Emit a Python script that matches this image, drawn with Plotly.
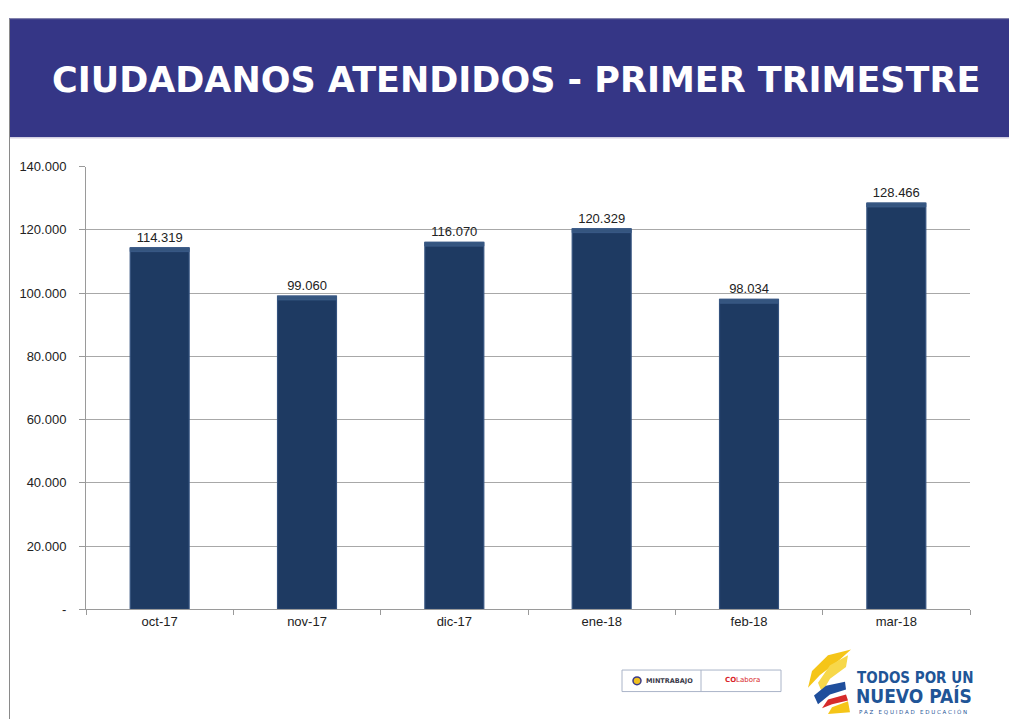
import plotly.graph_objects as go

W, H = 1009, 727

categories = ["oct-17", "nov-17", "dic-17", "ene-18", "feb-18", "mar-18"]
values = [114319, 99060, 116070, 120329, 98034, 128466]
value_labels = ["114.319", "99.060", "116.070", "120.329", "98.034", "128.466"]
y_tickvals = [0, 20000, 40000, 60000, 80000, 100000, 120000, 140000]
y_ticktext = ["-", "20.000", "40.000", "60.000", "80.000", "100.000", "120.000", "140.000"]
title_text = "CIUDADANOS ATENDIDOS - PRIMER TRIMESTRE"

BEVEL = 1200  # thickness (in data units) of the lighter top edge of each bar


def px(x):
    return x / W


def py(y):
    return 1 - y / H


fig = go.Figure()
fig.add_trace(go.Bar(
    x=categories, y=values,
    text=value_labels, textposition="outside",
    textfont=dict(family="Liberation Sans, Arial", size=13, color="#222222"),
    cliponaxis=False,
    marker=dict(color="#1e3a62", line=dict(color="#34527e", width=1.2)),
    width=0.4,
    hoverinfo="skip",
))
# soft lighter bevel at top of bars
fig.add_trace(go.Bar(
    x=categories, y=[BEVEL] * len(values), base=[v - BEVEL for v in values],
    marker=dict(color="#35557f", line=dict(color="#3a5a86", width=1)),
    width=0.4, hoverinfo="skip",
))

shapes = [
    dict(type="rect", xref="paper", yref="paper", x0=px(9), x1=px(W), y0=py(133), y1=py(12),
         fillcolor="#353686", line=dict(width=0), layer="below"),
    dict(type="line", xref="paper", yref="paper", x0=px(9.5), x1=px(9.5), y0=0, y1=py(12),
         line=dict(color="#8a8a8a", width=1)),
    dict(type="line", xref="paper", yref="paper", x0=px(9), x1=px(W), y0=py(12), y1=py(12),
         line=dict(color="#6a6a9a", width=1)),
    dict(type="line", xref="paper", yref="paper", x0=px(10), x1=px(W), y0=py(134), y1=py(134),
         line=dict(color="#e4dde8", width=1)),
    dict(type="rect", xref="paper", yref="paper", x0=px(622), x1=px(781), y0=py(699), y1=py(677),
         fillcolor="white", line=dict(color="#aab4c8", width=1)),
    dict(type="line", xref="paper", yref="paper", x0=px(701), x1=px(701), y0=py(699), y1=py(677),
         line=dict(color="#aab4c8", width=1)),
    dict(type="circle", xref="paper", yref="paper", x0=px(633), x1=px(641), y0=py(692), y1=py(684),
         fillcolor="#f0c020", line=dict(color="#3a3a8a", width=1.5)),
]


def path(pts):
    return "M " + " L ".join(f"{px(a)},{py(b)}" for a, b in pts) + " Z"


swirl = [
    ([(851, 656), (828, 662), (812, 678), (808, 695), (820, 682), (838, 668)], "#f5c518"),
    ([(848, 662), (830, 672), (818, 690), (822, 700), (830, 686), (846, 674)], "#f7d84a"),
    ([(845, 689), (826, 693), (814, 703), (818, 712), (830, 702), (846, 697)], "#1f4e9c"),
    ([(846, 702), (828, 707), (822, 716), (832, 712), (848, 708)], "#d62b2b"),
    ([(848, 709), (832, 715), (828, 722), (850, 720)], "#f5c518"),
]
for pts, col in swirl:
    shapes.append(dict(type="path", xref="paper", yref="paper", path=path(pts),
                       fillcolor=col, line=dict(width=0)))

annotations = [
    dict(text=f"<b>{title_text}</b>", x=px(516), y=py(75), xref="paper", yref="paper",
         showarrow=False, xanchor="center", yanchor="middle",
         font=dict(family="DejaVu Sans, Verdana", size=35, color="white")),
    dict(text="<b>MINTRABAJO</b>", x=px(644), y=py(688), xref="paper", yref="paper",
         showarrow=False, xanchor="left", yanchor="middle",
         font=dict(family="DejaVu Sans", size=6.5, color="#3a3a4a")),
    dict(text="<b>CO</b>Labora", x=px(742), y=py(687), xref="paper", yref="paper",
         showarrow=False, xanchor="center", yanchor="middle",
         font=dict(family="DejaVu Sans", size=7, color="#d81f2a")),
    dict(text="<b>TODOS POR UN</b>", x=px(855), y=py(685), xref="paper", yref="paper",
         showarrow=False, xanchor="left", yanchor="middle",
         font=dict(family="DejaVu Sans Condensed, DejaVu Sans", size=15, color="#1f5597")),
    dict(text="<b>NUEVO PAÍS</b>", x=px(854), y=py(704), xref="paper", yref="paper",
         showarrow=False, xanchor="left", yanchor="middle",
         font=dict(family="DejaVu Sans Condensed, DejaVu Sans", size=19, color="#1f5597")),
    dict(text="P A Z   E Q U I D A D   E D U C A C I Ó N", x=px(857), y=py(719), xref="paper", yref="paper",
         showarrow=False, xanchor="left", yanchor="middle",
         font=dict(family="DejaVu Sans", size=5.5, color="#1f5597")),
]

fig.update_layout(
    width=W, height=H,
    margin=dict(l=0, r=0, t=0, b=0),
    paper_bgcolor="white", plot_bgcolor="white",
    showlegend=False, barmode="overlay",
    shapes=shapes, annotations=annotations,
    xaxis=dict(
        domain=[px(86), px(970)],
        showline=True, linecolor="#9a9a9a", linewidth=1,
        ticks="outside", tickson="boundaries", ticklen=5, tickcolor="#9a9a9a",
        tickfont=dict(family="Liberation Sans, Arial", size=13, color="#222222"),
        showgrid=False, fixedrange=True,
    ),
    yaxis=dict(
        domain=[py(615), py(163)],
        range=[0, 140000],
        tickvals=y_tickvals, ticktext=y_ticktext,
        showline=True, linecolor="#9a9a9a", linewidth=1,
        ticks="outside", ticklen=6, tickcolor="#9a9a9a",
        showgrid=True, gridcolor="#a8a8a8", gridwidth=1,
        zeroline=False,
        tickfont=dict(family="Liberation Sans, Arial", size=13, color="#222222"),
        ticklabelstandoff=10,
        fixedrange=True,
    ),
)

post = (
    "document.documentElement.style.margin='0';"
    "document.body.style.margin='0';"
    "document.body.style.overflow='hidden';"
)

fig.write_html(
    "out.html",
    config={"displayModeBar": False, "responsive": False},
    post_script=post,
)
